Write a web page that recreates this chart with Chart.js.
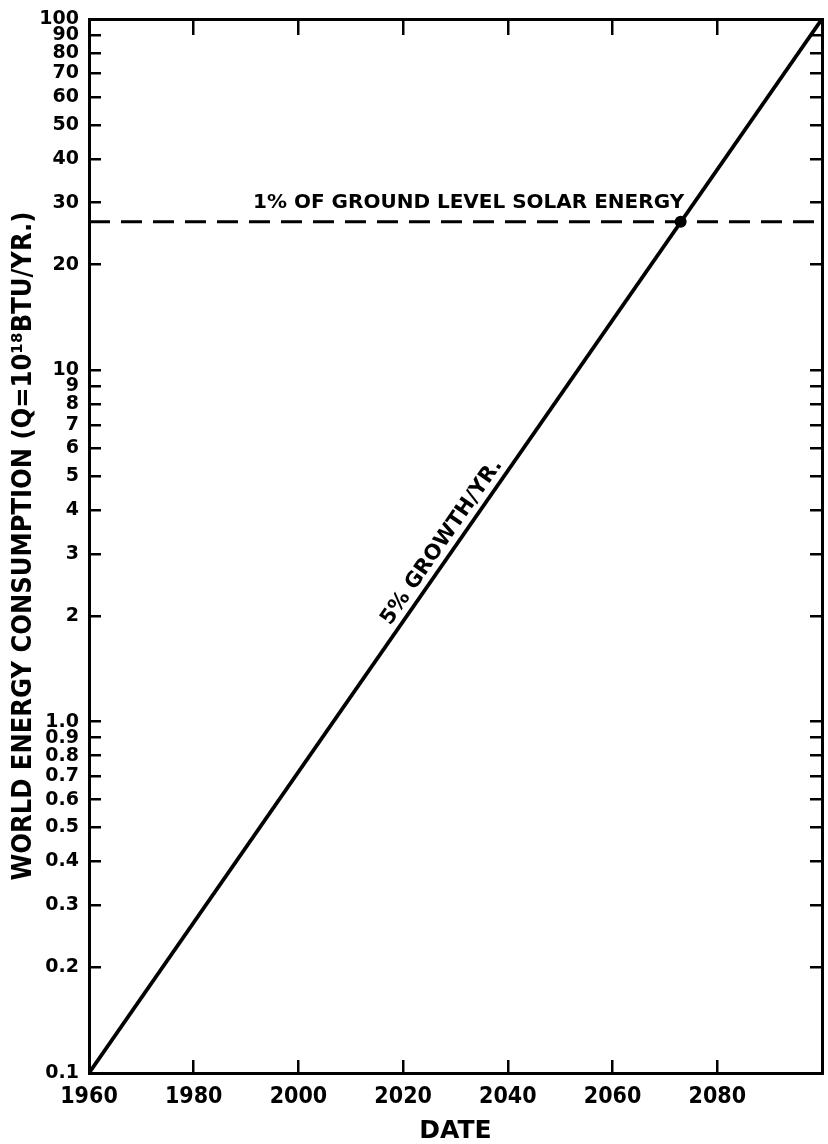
<!DOCTYPE html>
<html>
<head>
<meta charset="utf-8">
<script src="https://cdn.jsdelivr.net/npm/chart.js@4.4.1/dist/chart.umd.min.js"></script>
<style>
  html, body { margin: 0; padding: 0; background: #fff; }
  canvas { display: block; }
</style>
</head>
<body>
<canvas id="chart" width="828" height="1144"></canvas>
<script>
// Date axis
const yearTicks = [1960, 1980, 2000, 2020, 2040, 2060, 2080];
const yearRange = [1960, 2100];

// Consumption axis (logarithmic): tick values and printed labels
const energyTicks = [0.1, 0.2, 0.3, 0.4, 0.5, 0.6, 0.7, 0.8, 0.9, 1, 2, 3, 4, 5, 6, 7, 8, 9, 10, 20, 30, 40, 50, 60, 70, 80, 90, 100];
const energyLabels = ['0.1', '0.2', '0.3', '0.4', '0.5', '0.6', '0.7', '0.8', '0.9', '1.0', '2', '3', '4', '5', '6', '7', '8', '9', '10', '20', '30', '40', '50', '60', '70', '80', '90', '100'];
const energyRange = [0.1, 100];

// Consumption growing at 5% per year
const growthYears = [1960, 2100];
const growthValues = [0.1, 100];

// 1% of ground level solar energy
const solarYears = [1960, 2100];
const solarLevel = 26.5;

// Year the growth curve reaches the solar level
const crossYears = [2073];
const crossValues = [26.5];

// Text written on the plot
const solarText = '1% OF GROUND LEVEL SOLAR ENERGY';
const solarTextYear = 2032.5;
const growthText = '5% GROWTH/YR.';
const growthTextYear = 2029.5;

const FAMILY = "'DejaVu Sans', sans-serif";
const CONDENSED = "'DejaVu Sans Condensed', 'DejaVu Sans', sans-serif";
const INK = '#000';

const plotNotes = {
  id: 'plotNotes',
  afterDatasetsDraw(chart) {
    const { ctx, scales: { x, y } } = chart;
    ctx.save();
    ctx.fillStyle = INK;
    ctx.font = 'bold 20px ' + FAMILY;
    ctx.textAlign = 'center';
    ctx.textBaseline = 'alphabetic';
    ctx.fillText(solarText, x.getPixelForValue(solarTextYear), y.getPixelForValue(solarLevel) - 14);

    // label running along the growth line
    const x0 = x.getPixelForValue(growthYears[0]), y0 = y.getPixelForValue(growthValues[0]);
    const x1 = x.getPixelForValue(growthYears[1]), y1 = y.getPixelForValue(growthValues[1]);
    const angle = Math.atan2(y1 - y0, x1 - x0);
    const px = x.getPixelForValue(growthTextYear);
    const py = y0 + (px - x0) * (y1 - y0) / (x1 - x0);
    ctx.translate(px, py);
    ctx.rotate(angle);
    ctx.font = 'bold 21px ' + FAMILY;
    ctx.fillText(growthText, 0, -8);
    ctx.restore();
  }
};

const tickGrid = len => ({
  display: true,
  drawOnChartArea: false,
  drawTicks: true,
  tickLength: -len,
  color: INK,
  lineWidth: 2.5
});
const frame = { display: true, color: INK, width: 3 };

// fixed axis band sizes so the plot frame sits where it should
const bandX = size => s => { s.height = size; s.paddingLeft = 0; s.paddingRight = 0; };
const bandY = size => s => { s.width = size; s.paddingTop = 0; s.paddingBottom = 0; };

new Chart(document.getElementById('chart'), {
  type: 'line',
  data: {
    datasets: [
      {
        data: growthYears.map((yr, i) => ({ x: yr, y: growthValues[i] })),
        borderColor: INK,
        borderWidth: 3.8,
        pointRadius: 0,
        xAxisID: 'x',
        yAxisID: 'y'
      },
      {
        data: solarYears.map(yr => ({ x: yr, y: solarLevel })),
        borderColor: INK,
        borderWidth: 3,
        borderDash: [21, 11],
        pointRadius: 0,
        xAxisID: 'x',
        yAxisID: 'y'
      },
      {
        type: 'scatter',
        data: crossYears.map((yr, i) => ({ x: yr, y: crossValues[i] })),
        pointRadius: 6,
        backgroundColor: INK,
        borderColor: INK,
        borderWidth: 0,
        xAxisID: 'x',
        yAxisID: 'y'
      }
    ]
  },
  options: {
    responsive: false,
    animation: false,
    layout: { padding: 0 },
    plugins: { legend: { display: false }, tooltip: { enabled: false } },
    scales: {
      x: {
        type: 'linear',
        position: 'bottom',
        min: yearRange[0],
        max: yearRange[1],
        afterBuildTicks: s => { s.ticks = yearTicks.map(v => ({ value: v })); },
        afterFit: bandX(71),
        ticks: {
          autoSkip: false,
          maxRotation: 0,
          padding: 23,
          color: INK,
          font: { family: CONDENSED, weight: 'bold', size: 23 },
          callback: v => String(v)
        },
        grid: tickGrid(13),
        border: frame,
        title: {
          display: true,
          text: 'DATE',
          color: INK,
          font: { family: FAMILY, weight: 'bold', size: 25, lineHeight: 1 },
          padding: { top: 0, bottom: 0 }
        }
      },
      xTop: {
        type: 'linear',
        position: 'top',
        min: yearRange[0],
        max: yearRange[1],
        afterBuildTicks: s => { s.ticks = yearTicks.map(v => ({ value: v })); },
        afterFit: bandX(19),
        ticks: { display: false },
        grid: tickGrid(16),
        border: frame
      },
      y: {
        type: 'logarithmic',
        position: 'left',
        min: energyRange[0],
        max: energyRange[1],
        afterBuildTicks: s => { s.ticks = energyTicks.map(v => ({ value: v })); },
        afterFit: bandY(89),
        ticks: {
          autoSkip: false,
          padding: 22,
          color: INK,
          font: { family: FAMILY, weight: 'bold', size: 19 },
          callback: (v, i) => energyLabels[i]
        },
        grid: tickGrid(12),
        border: frame,
        title: {
          display: true,
          text: 'WORLD ENERGY CONSUMPTION (Q=10¹⁸BTU/YR.)',
          color: INK,
          font: { family: CONDENSED, weight: 'bold', size: 27, lineHeight: 1.2 },
          padding: { top: 8, bottom: 0 }
        }
      },
      yRight: {
        type: 'logarithmic',
        position: 'right',
        min: energyRange[0],
        max: energyRange[1],
        afterBuildTicks: s => { s.ticks = energyTicks.map(v => ({ value: v })); },
        afterFit: bandY(1),
        ticks: { display: false },
        grid: tickGrid(12),
        border: frame
      }
    }
  },
  plugins: [plotNotes]
});
</script>
</body>
</html>
